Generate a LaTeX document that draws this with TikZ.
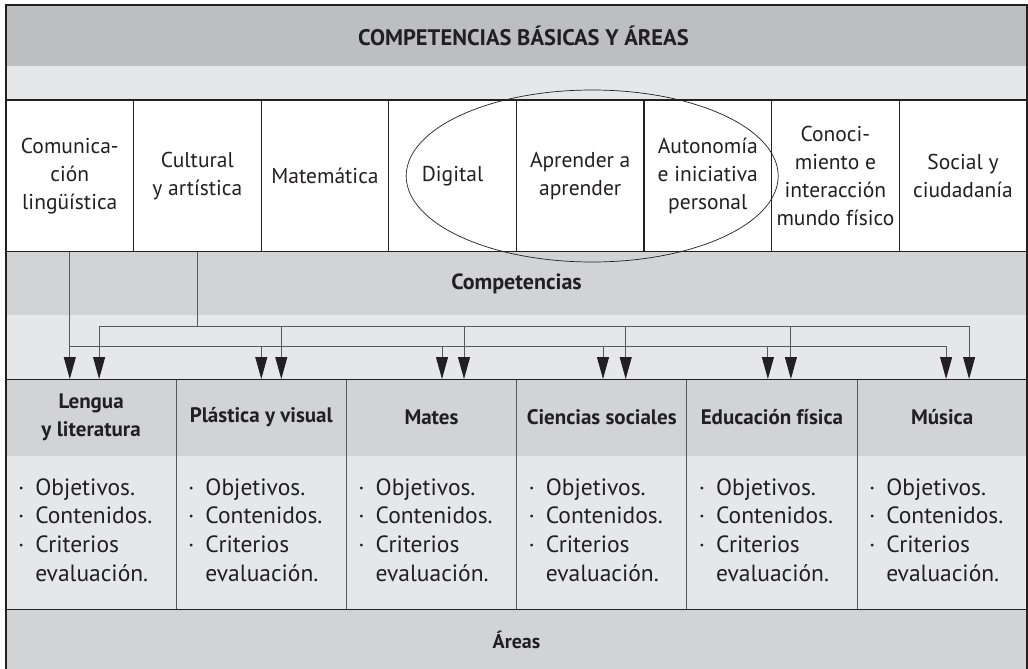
\documentclass[tikz,border=0pt]{standalone}
\usepackage{fontspec}
\setmainfont{PT Sans}
\usetikzlibrary{positioning,arrows.meta}

\definecolor{ink}{RGB}{35,31,32}
\definecolor{wire}{RGB}{88,89,91}
\definecolor{banddark}{RGB}{188,190,192}
\definecolor{bandmid}{RGB}{209,211,212}
\definecolor{bandlight}{RGB}{230,231,232}

\tikzset{
  band/.style={fill=#1, minimum width=1021pt, inner sep=0pt, outer sep=0pt, anchor=north west, text=ink},
  compbox/.style={draw=ink, line width=1.1pt, fill=white, minimum width=127.6pt, minimum height=152pt, inner sep=0pt, outer sep=0pt, align=center, text=ink, font=\fontsize{21.5}{28}\selectfont},
  areahead/.style={fill=bandmid, minimum width=170.2pt, minimum height=77pt, inner sep=0pt, outer sep=0pt, align=center, text=ink, font=\fontsize{21}{28}\selectfont\bfseries},
  areabody/.style={fill=bandlight, minimum width=170.2pt, minimum height=153pt, inner xsep=12pt, inner ysep=0pt, outer sep=0pt, text width=146.2pt, align=left, text=ink, font=\fontsize{23.5}{28.7}\selectfont},
  link/.style={draw=wire, line width=0.9pt},
  arr/.style={link, -{Triangle[length=22pt,width=12pt,color=ink]}},
}
\newcommand{\puntos}{%
  \begin{tabular}{@{}l@{\hspace{11pt}}l@{}}
    \textperiodcentered & Objetivos.\\
    \textperiodcentered & Contenidos.\\
    \textperiodcentered & Criterios\\
    & evaluación.
  \end{tabular}}

\begin{document}
\begin{tikzpicture}[x=1pt,y=-1pt]
  \useasboundingbox (0,0) rectangle (1028,669);
  % bandas
  \node[band=banddark, minimum height=61pt, font=\fontsize{22.5}{27}\selectfont\bfseries] (titulo) at (6,5) {\hspace{14pt}COMPETENCIAS BÁSICAS Y ÁREAS};
  \node[band=bandlight, minimum height=34pt, below=0pt of titulo] (hueco1) {};
  % competencias
  \node[compbox, anchor=north west] (c1) at (hueco1.south west) {Comunica-\\ción\\lingüística};
  \node[compbox, right=0pt of c1] (c2) {Cultural\\y artística};
  \node[compbox, right=0pt of c2] (c3) {Matemática};
  \node[compbox, right=0pt of c3] (c4) {Digital};
  \node[compbox, right=0pt of c4] (c5) {Aprender a\\aprender};
  \node[compbox, right=0pt of c5] (c6) {Autonomía\\e iniciativa\\personal};
  \node[compbox, right=0pt of c6] (c7) {Conoci-\\miento e\\interacción\\mundo físico};
  \node[compbox, right=0pt of c7] (c8) {Social y\\ciudadanía};
  \node[band=bandmid, minimum height=63pt, anchor=north west, font=\fontsize{22}{27}\selectfont\bfseries] (compband) at (c1.south west) {Competencias};
  \node[band=bandlight, minimum height=64pt, below=0pt of compband] (hueco2) {};
  \coordinate (anillo) at ([xshift=12pt]c5.center);
  \draw[ink, line width=0.7pt] (anillo) ellipse [x radius=186pt, y radius=86pt];
  % areas
  \node[areahead, anchor=north west] (a1) at (hueco2.south west) {Lengua\\y literatura};
  \node[areahead, right=0pt of a1] (a2) {Plástica y visual};
  \node[areahead, right=0pt of a2] (a3) {Mates};
  \node[areahead, right=0pt of a3] (a4) {Ciencias sociales};
  \node[areahead, right=0pt of a4] (a5) {Educación física};
  \node[areahead, right=0pt of a5] (a6) {Música};
  \foreach \i in {1,...,6}
    \node[areabody, below=0pt of a\i] (b\i) {\puntos};
  \node[band=bandmid, minimum height=62pt, anchor=north west, font=\fontsize{20}{27}\selectfont\bfseries] (areas) at (b1.south west) {Áreas};
  % lineas
  \foreach \i in {2,...,6}
    \draw[wire, line width=0.8pt] (a\i.north west) -- (b\i.south west);
  \draw[ink, line width=1pt] (a1.north west) -- (a6.north east);
  \draw[ink, line width=1pt] (b1.south west) -- (b6.south east);
  \draw[ink, line width=1.1pt] (areas.south west) |- (titulo.north east) -- (areas.south east);
  % flechas
  \coordinate (busA) at (0,346);
  \coordinate (busB) at (0,326);
  \draw[arr] (c1.south) -- (c1.south |- a1.north);
  \draw[link] (c2.south) -- (c2.south |- busB);
  \foreach \n/\d in {a2/0,a3/10.5,a4/1.3,a5/-4,a6/4}
    \coordinate (p\n) at ([xshift=\d pt]\n.north);
  \foreach \n/\d in {a1/8,a2/20,a3/32.5,a4/24,a5/19,a6/27}
    \coordinate (q\n) at ([xshift=\d pt]\n.north);
  \draw[link] (c1.south |- busA) -- (pa6 |- busA);
  \draw[link] (qa1 |- busB) -- (qa6 |- busB);
  \foreach \n in {a2,a3,a4,a5,a6}
    \draw[arr] (p\n |- busA) -- (p\n);
  \foreach \n in {a1,a2,a3,a4,a5,a6}
    \draw[arr] (q\n |- busB) -- (q\n);
\end{tikzpicture}
\end{document}
